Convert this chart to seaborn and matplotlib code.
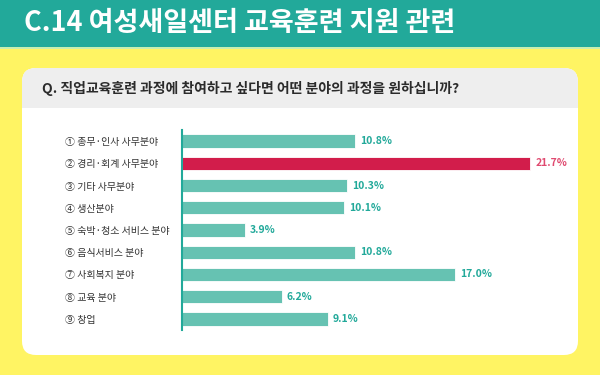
import matplotlib
matplotlib.use('Agg')
import matplotlib.pyplot as plt
from matplotlib.patches import FancyBboxPatch, Rectangle
import seaborn as sns
import pandas as pd

# 데이터
categories = ['① 총무·인사 사무분야', '② 경리·회계 사무분야', '③ 기타 사무분야', '④ 생산분야',
              '⑤ 숙박·청소 서비스 분야', '⑥ 음식서비스 분야', '⑦ 사회복지 분야', '⑧ 교육 분야', '⑨ 창업']
values = [10.8, 21.7, 10.3, 10.1, 3.9, 10.8, 17.0, 6.2, 9.1]
highlight = ['no', 'yes', 'no', 'no', 'no', 'no', 'no', 'no', 'no']

title = 'C.14 여성새일센터 교육훈련 지원 관련'
question = 'Q. 직업교육훈련 과정에 참여하고 싶다면 어떤 분야의 과정을 원하십니까?'

teal = '#22a99a'
bar_teal = '#66c2b2'
red = '#d21d4b'
yellow = '#fff463'

sns.set_style('white')
plt.rcParams['font.family'] = ['Noto Sans CJK KR', 'DejaVu Sans']

df = pd.DataFrame({'cat': categories, 'val': values, 'hl': highlight})

fig = plt.figure(figsize=(6, 3.75), dpi=100, facecolor=yellow)

# 배경 (픽셀 좌표)
bg = fig.add_axes([0, 0, 1, 1])
bg.set_xlim(0, 600)
bg.set_ylim(375, 0)
bg.axis('off')
bg.add_patch(Rectangle((0, 0), 600, 47, color=teal, lw=0))
bg.add_patch(Rectangle((0, 47), 600, 2, color='#c8eeb0', lw=0))
bg.add_patch(FancyBboxPatch((22 + 14, 68 + 14), 556 - 28, 287 - 28,
                            boxstyle='round,pad=14', fc='white', ec='none'))
bg.add_patch(FancyBboxPatch((22 + 14, 68 + 14), 556 - 28, 60 - 28,
                            boxstyle='round,pad=14', fc='#eeeeee', ec='none'))
bg.add_patch(Rectangle((22, 108), 556, 30, color='white', lw=0))
bg.text(24, 23, title, color='white', fontsize=19.5, fontweight='bold', va='center', ha='left')
bg.text(42, 88, question, color='#2b2b2b', fontsize=10, fontweight='bold', va='center', ha='left')

# 막대 차트
ax = fig.add_axes([182 / 600, 1 - 330 / 375, 378 / 600, 200 / 375])
ax.set_facecolor('none')
sns.barplot(data=df, y='cat', x='val', hue='hl', palette={'no': bar_teal, 'yes': red},
            orient='h', width=0.6, dodge=False, legend=False, ax=ax, saturation=1,
            edgecolor='white', linewidth=0.6)
ax.set_xlim(0, 23.55)
ax.set_ylim(8.5, -0.5)
ax.set_xlabel('')
ax.set_ylabel('')
ax.set_xticks([])
for s in ['top', 'right', 'bottom']:
    ax.spines[s].set_visible(False)
ax.spines['left'].set_color(teal)
ax.spines['left'].set_linewidth(1.5)
ax.tick_params(axis='y', length=0, pad=84, labelsize=7.2, labelcolor='#333333')
for lbl in ax.get_yticklabels():
    lbl.set_ha('left')

for i, v in enumerate(values):
    c = '#e04a70' if highlight[i] == 'yes' else teal
    ax.text(v + 0.3, i, f'{v:.1f}%', color=c, fontsize=7.5, fontweight='bold',
            va='center', ha='left')

fig.savefig('out.png', dpi=100, facecolor=yellow)
